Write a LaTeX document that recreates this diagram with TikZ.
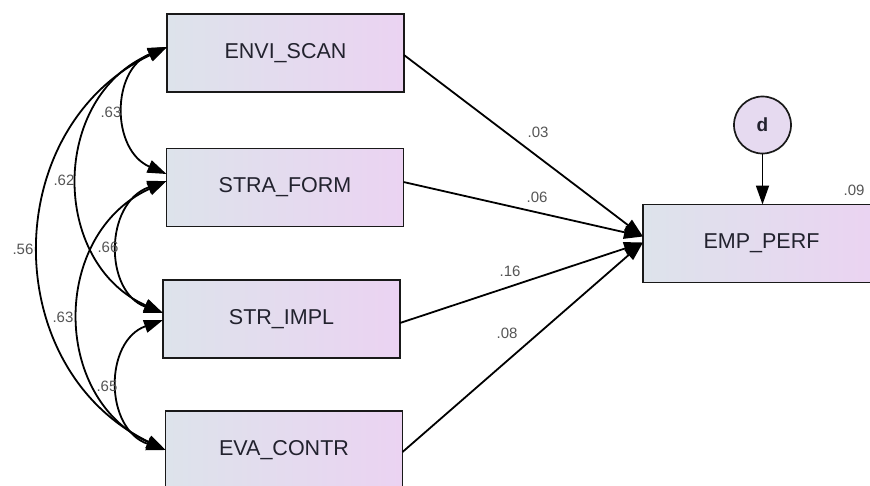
\documentclass[tikz,border=0pt]{standalone}
\usepackage{fontspec}
\setmainfont{Liberation Sans}
\usetikzlibrary{arrows.meta,calc}
\definecolor{boxL}{HTML}{DDE3EB}
\definecolor{boxR}{HTML}{EBD3F2}
\definecolor{circfill}{HTML}{E6DAF0}
\definecolor{txt}{HTML}{22222E}
\definecolor{lbl}{HTML}{555555}
\tikzset{
  varbox/.style={draw=black!90, line width=1.9pt, left color=boxL, right color=boxR,
    minimum width=237pt, minimum height=78pt, inner sep=0pt, outer sep=0pt,
    font=\fontsize{21.5}{24}\selectfont, text=txt},
  errc/.style={draw=black!90, line width=1.7pt, fill=circfill, circle,
    minimum size=57pt, inner sep=0pt, outer sep=0pt,
    font=\fontsize{19}{22}\selectfont\bfseries, text=txt},
  coef/.style={font=\fontsize{15}{17}\selectfont, text=lbl, inner sep=0pt},
  reg/.style={line width=1.8pt, -{Triangle[length=19pt,width=13pt]}},
  cov/.style={line width=1.8pt, {Triangle[length=19pt,width=13pt]}-{Triangle[length=19pt,width=13pt]}}
}
\begin{document}
\begin{tikzpicture}[x=1pt,y=-1pt]
\useasboundingbox (0,0) rectangle (870,485);
\clip (0,0) rectangle (870,485);
\fill[white] (0,0) rectangle (870,485);

\node[varbox] (envi) at (285.5,53) {ENVI\_SCAN};
\node[varbox] (stra) at (285,187.5) {STRA\_FORM};
\node[varbox] (impl) at (281.5,319) {STR\_IMPL};
\node[varbox] (eva) at (284,450) {EVA\_CONTR};
\node[varbox] (emp) at (761.5,243.5) {EMP\_PERF};
\node[errc] (d) at (762.5,125) {d};

% anchor points on box edges
\coordinate (envL) at ($(envi.west)+(0,-6)$);
\coordinate (straLa) at ($(stra.west)+(0,-13.5)$);
\coordinate (straLb) at ($(stra.west)+(0,-6.5)$);
\coordinate (implLa) at ($(impl.west)+(0,-6)$);
\coordinate (implLb) at ($(impl.west)+(0,1)$);
\coordinate (evaL) at ($(eva.west)+(0,0)$);
\coordinate (empLa) at ($(emp.west)+(0,-7)$);
\coordinate (empLb) at ($(emp.west)+(0,-1)$);
\coordinate (enviR) at ($(envi.east)+(0,2)$);
\coordinate (straR) at ($(stra.east)+(0,-5.5)$);
\coordinate (implR) at ($(impl.east)+(0,4)$);
\coordinate (evaR) at ($(eva.east)+(0,2)$);

% regressions
\draw[reg] (enviR) -- (empLa);
\draw[reg] (straR) -- (empLa);
\draw[reg] (implR) -- (empLb);
\draw[reg] (evaR) -- (empLb);
\draw[reg] (d.south) -- (emp.north -| d.south);

% covariances
\draw[cov] (envL) .. controls (111,70) and (111,150) .. (straLa);
\draw[cov] (envL) .. controls (50,97) and (50,263) .. (implLa);
\draw[cov] (envL) .. controls (-2,128) and (-2,369) .. (evaL);
\draw[cov] (straLb) .. controls (104,203) and (104,292) .. (implLa);
\draw[cov] (straLb) .. controls (51,234) and (51,398) .. (evaL);
\draw[cov] (implLb) .. controls (104,341) and (104,429) .. (evaL);

% coefficients
\node[coef] (c1) at (111,112) {.63};
\node[coef] (c2) at (64,180) {.62};
\node[coef] (c3) at (23,249) {.56};
\node[coef] (c4) at (108,247) {.66};
\node[coef] (c5) at (63,317) {.63};
\node[coef] (c6) at (107,386) {.65};
\node[coef] (r1) at (538,132) {.03};
\node[coef] (r2) at (537,197) {.06};
\node[coef] (r3) at (510,271) {.16};
\node[coef] (r4) at (507,333) {.08};
\node[coef] (r5) at (854,190) {.09};
\end{tikzpicture}
\end{document}
